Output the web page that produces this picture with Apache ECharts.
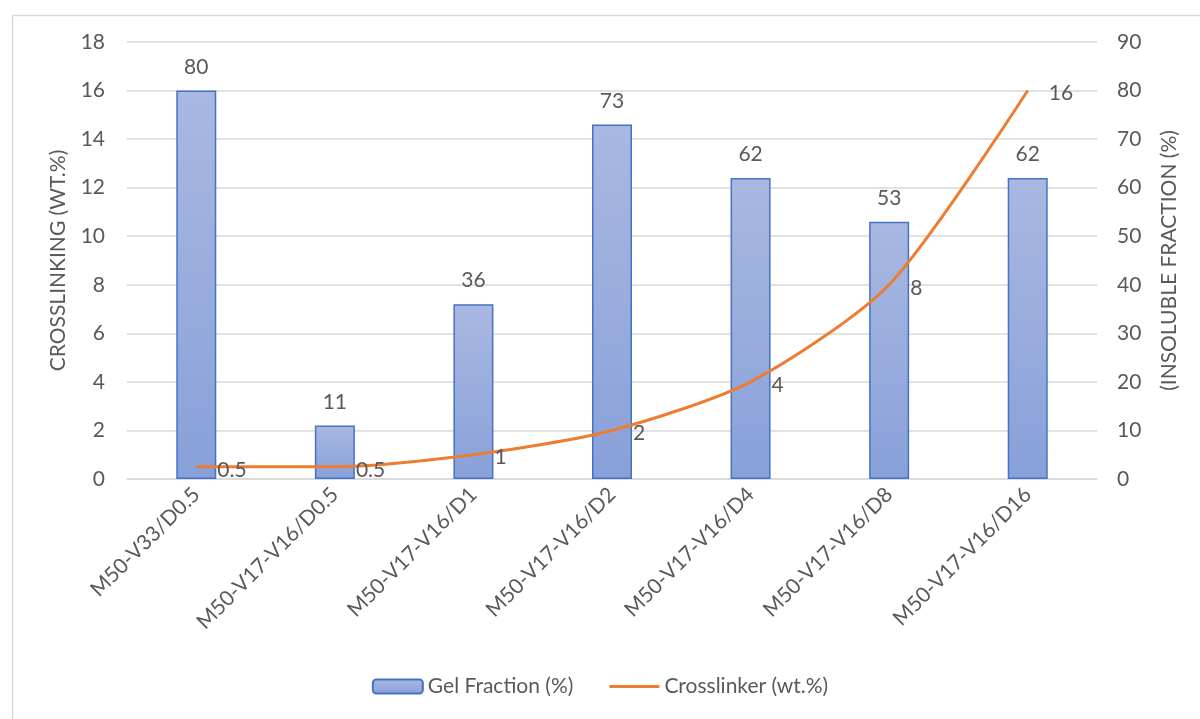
<!DOCTYPE html>
<html>
<head>
<meta charset="utf-8">
<script src="https://cdn.jsdelivr.net/npm/echarts@6/dist/echarts.min.js"></script>
<style>
  html, body { margin: 0; padding: 0; background: #fff; }
  #chart { width: 1200px; height: 719px; }
</style>
</head>
<body>
<div id="chart"></div>
<script>
// Sample names along the category axis
const categories = ['M50-V33/D0.5', 'M50-V17-V16/D0.5', 'M50-V17-V16/D1', 'M50-V17-V16/D2',
  'M50-V17-V16/D4', 'M50-V17-V16/D8', 'M50-V17-V16/D16'];
// Gel fraction (%), plotted against the right-hand axis
const gelFraction = [80, 11, 36, 73, 62, 53, 62];
// Crosslinker content (wt.%), plotted against the left-hand axis
const crosslinker = [0.5, 0.5, 1, 2, 4, 8, 16];

const TEXT = '#595959';
const GRID = '#d9d9d9';
const FONT = 'Lato, "Open Sans", sans-serif';
const FS = 21;

const chart = echarts.init(document.getElementById('chart'), null, { renderer: 'canvas' });

chart.setOption({
  animation: false,
  backgroundColor: '#ffffff',
  textStyle: { fontFamily: FONT },
  graphic: [{
    type: 'rect',
    left: 10, top: 13,
    shape: { width: 1300, height: 800 },
    style: { fill: 'none', stroke: GRID, lineWidth: 1.5 },
    silent: true
  }],
  grid: { left: 127, right: 103, top: 42, bottom: 240 },
  legend: {
    bottom: 17,
    left: 'center',
    itemWidth: 50,
    itemHeight: 14,
    itemGap: 36,
    textStyle: { color: TEXT, fontSize: FS, fontFamily: FONT },
    data: [
      { name: 'Gel Fraction (%)' },
      { name: 'Crosslinker (wt.%)', icon: 'path://M0,6 L50,6 L50,9 L0,9 Z' }
    ]
  },
  xAxis: {
    type: 'category',
    data: categories,
    axisLine: { lineStyle: { color: GRID, width: 1.5 } },
    axisTick: { show: false },
    axisLabel: { rotate: 45, color: TEXT, fontSize: FS, fontFamily: FONT, margin: 12, interval: 0 }
  },
  yAxis: [{
    type: 'value',
    min: 0, max: 18, interval: 2,
    name: 'CROSSLINKING (WT.%)',
    nameLocation: 'middle',
    nameRotate: 90,
    nameGap: 58,
    nameTextStyle: { color: TEXT, fontSize: FS, fontFamily: FONT },
    axisLine: { show: false },
    axisTick: { show: false },
    axisLabel: { color: TEXT, fontSize: FS, fontFamily: FONT, margin: 22 },
    splitLine: { lineStyle: { color: GRID, width: 1.5 } }
  }, {
    type: 'value',
    min: 0, max: 90, interval: 10,
    position: 'right',
    name: '(INSOLUBLE FRACTION (%)',
    nameLocation: 'middle',
    nameRotate: 90,
    nameGap: 62,
    nameTextStyle: { color: TEXT, fontSize: FS, fontFamily: FONT },
    axisLine: { show: false },
    axisTick: { show: false },
    axisLabel: { color: TEXT, fontSize: FS, fontFamily: FONT, margin: 20 },
    splitLine: { show: false }
  }],
  series: [{
    name: 'Gel Fraction (%)',
    type: 'bar',
    yAxisIndex: 1,
    data: gelFraction,
    barWidth: 40,
    itemStyle: {
      color: new echarts.graphic.LinearGradient(0, 0, 0, 1, [
        { offset: 0, color: '#a9b8e1' },
        { offset: 1, color: '#88a0d9' }
      ]),
      borderColor: '#4472c4',
      borderWidth: 1.5
    },
    label: {
      show: true, position: 'top', distance: 13,
      color: TEXT, fontSize: FS, fontFamily: FONT
    },
    z: 2
  }, {
    name: 'Crosslinker (wt.%)',
    type: 'line',
    yAxisIndex: 0,
    data: crosslinker,
    smooth: 0.25,
    symbol: 'circle',
    symbolSize: 0.1,
    lineStyle: { color: '#ed7d31', width: 3 },
    itemStyle: { color: '#ed7d31' },
    label: {
      show: true, position: 'right', distance: 21, offset: [0, 3],
      color: TEXT, fontSize: FS, fontFamily: FONT
    },
    z: 3
  }]
});
</script>
</body>
</html>
